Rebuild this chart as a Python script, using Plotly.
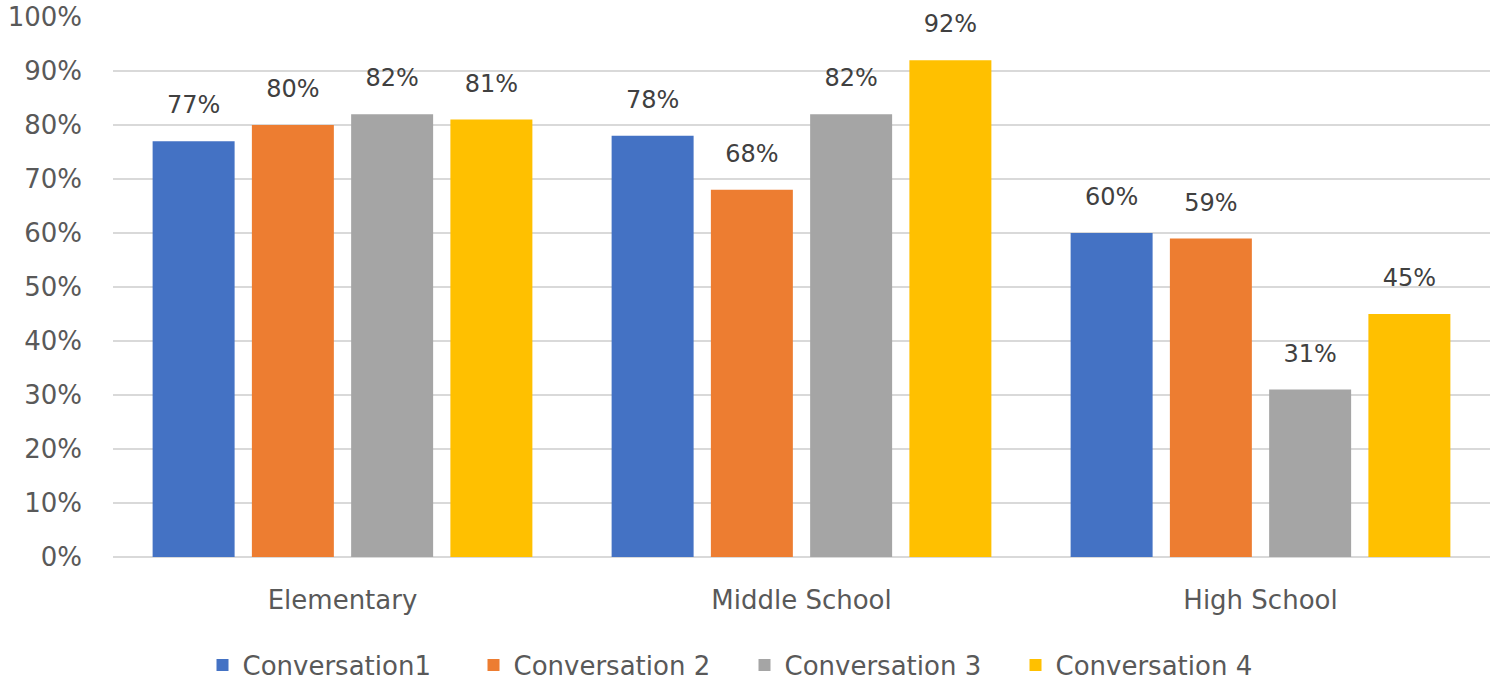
import plotly.graph_objects as go

categories = ["Elementary", "Middle School", "High School"]
series_names = ["Conversation1", "Conversation 2", "Conversation 3", "Conversation 4"]
conv1 = [77, 78, 60]
conv2 = [80, 68, 59]
conv3 = [82, 82, 31]
conv4 = [81, 92, 45]
colors = ["#4472C4", "#ED7D31", "#A5A5A5", "#FFC000"]
y_ticks = list(range(0, 101, 10))
y_tick_labels = [f"{v}%" for v in y_ticks]

FONT = "DejaVu Sans"

fig = go.Figure()
for name, vals, col in zip(series_names, [conv1, conv2, conv3, conv4], colors):
    fig.add_trace(go.Bar(
        name=name, x=categories, y=vals,
        marker=dict(color=col, line=dict(width=0)),
        text=[f"<span style='font-size:24px'>{v}%</span><br> " for v in vals],
        textposition="outside",
        constraintext="none",
        textfont=dict(size=16, color="#404040", family=FONT),
        cliponaxis=False,
    ))

fig.update_layout(
    width=1495, height=683,
    margin=dict(l=113, r=5, t=17, b=126, autoexpand=False),
    paper_bgcolor="white", plot_bgcolor="white",
    barmode="group", bargap=0.135, bargroupgap=0.174,
    font=dict(family=FONT, color="#595959", size=26),
    showlegend=True,
    legend=dict(orientation="h", x=0.065, xanchor="left", y=-0.2, yanchor="middle",
                font=dict(size=26, color="#595959", family=FONT),
                itemwidth=30, entrywidth=226, entrywidthmode="pixels", tracegroupgap=0),
)
fig.update_yaxes(range=[0, 100], tickvals=y_ticks, ticktext=y_tick_labels,
                 showgrid=True, gridcolor="#D9D9D9", gridwidth=1.5,
                 zeroline=True, zerolinecolor="#D9D9D9", zerolinewidth=1.5,
                 showline=False, ticks="", ticklabelstandoff=30,
                 tickfont=dict(size=26, color="#595959", family=FONT))
fig.update_xaxes(showline=False, ticks="", ticklabelstandoff=25,
                 tickfont=dict(size=26, color="#595959", family=FONT))

fig.write_html("out.html")
